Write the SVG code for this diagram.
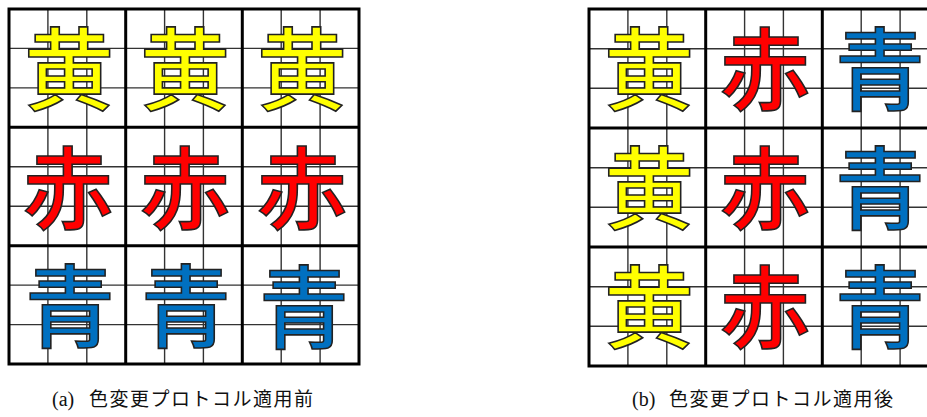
<svg xmlns="http://www.w3.org/2000/svg" width="927" height="417" viewBox="0 0 927 417">
<style>
.bg{fill:#fff}
.thin{stroke:#333;stroke-width:1.4;fill:none}
.thick{stroke:#000;stroke-width:3;fill:none}
.ch{font-family:"Noto Sans CJK JP","Noto Sans CJK SC",sans-serif;font-size:90px;font-weight:500;text-anchor:middle;stroke:#222;stroke-width:1.6;stroke-linejoin:miter}
.y{fill:#FFFF00}
.r{fill:#FF0000}
.b{fill:#0070C0}
.cap{font-family:"Noto Sans CJK JP","Noto Sans CJK SC",sans-serif;font-size:19px;fill:#111}
.capl{font-family:"Liberation Serif","Noto Sans CJK JP",serif;font-size:20px;fill:#111}
</style>
<rect class="bg" x="0" y="0" width="927" height="417"/>
<g id="grid-a">
<path class="thin" d="M47.9 9V364M86.8 9V364M164.6 9V364M203.4 9V364M281.2 9V364M320.1 9V364M9 48.4H359M9 87.9H359M9 166.8H359M9 206.2H359M9 285.1H359M9 324.6H359"/>
<path class="thick" d="M9 9H359V364H9ZM125.7 9V364M242.3 9V364M9 127.3H359M9 245.7H359"/>
</g>
<g id="grid-b">
<path class="thin" d="M627.9 9V366M666.8 9V366M744.6 9V366M783.4 9V366M861.2 9V366M900.1 9V366M589 48.7H939M589 88.3H939M589 167.7H939M589 207.3H939M589 286.7H939M589 326.3H939"/>
<path class="thick" d="M589 9H939V366H589ZM705.7 9V366M822.3 9V366M589 128H939M589 247H939"/>
</g>
<g id="chars-a">
<g id="a11"><text class="ch y" x="69" y="103">黄</text></g>
<g id="a12"><text class="ch y" x="185" y="103">黄</text></g>
<g id="a13"><text class="ch y" x="302" y="103">黄</text></g>
<g id="a21"><text class="ch r" x="68" y="222">赤</text></g>
<g id="a22"><text class="ch r" x="185" y="222">赤</text></g>
<g id="a23"><text class="ch r" x="302" y="222">赤</text></g>
<g id="a31"><text class="ch b" x="70" y="340">青</text></g>
<g id="a32"><text class="ch b" x="186" y="340">青</text></g>
<g id="a33"><text class="ch b" x="304" y="341">青</text></g>
</g>
<g id="chars-b">
<g id="b11"><text class="ch y" x="649" y="103">黄</text></g>
<g id="b12"><text class="ch r" x="765" y="103">赤</text></g>
<g id="b13"><text class="ch b" x="880" y="103">青</text></g>
<g id="b21"><text class="ch y" x="649" y="222">黄</text></g>
<g id="b22"><text class="ch r" x="765" y="222">赤</text></g>
<g id="b23"><text class="ch b" x="880" y="222">青</text></g>
<g id="b31"><text class="ch y" x="649" y="341">黄</text></g>
<g id="b32"><text class="ch r" x="765" y="341">赤</text></g>
<g id="b33"><text class="ch b" x="880" y="341">青</text></g>
</g>
<g id="caption-a">
<text class="capl" x="52" y="406">(a)</text>
<text class="cap" x="89" y="406" textLength="224" lengthAdjust="spacing">色変更プロトコル適用前</text>
</g>
<g id="caption-b">
<text class="capl" x="632" y="406">(b)</text>
<text class="cap" x="669" y="406" textLength="224" lengthAdjust="spacing">色変更プロトコル適用後</text>
</g>
</svg>
